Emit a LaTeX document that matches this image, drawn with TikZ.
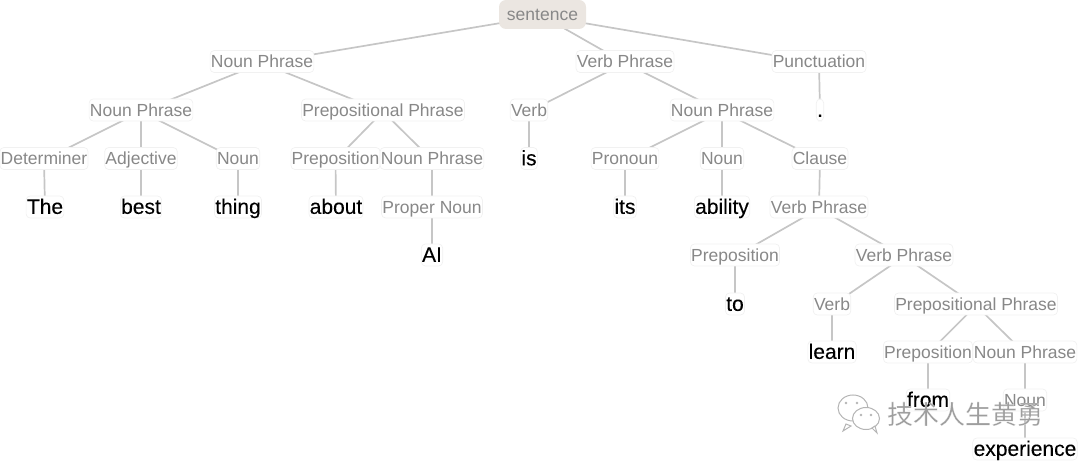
\documentclass[tikz,border=0pt]{standalone}
\usepackage{fontspec}
\setmainfont{Liberation Sans}
\newfontfamily\cjkmark[FakeBold=0.5]{Noto Sans CJK SC}
\newfontfamily\wordfont[FakeBold=0.12]{Liberation Sans}
\usetikzlibrary{backgrounds}
\definecolor{labelgrey}{HTML}{888888}
\definecolor{linkgrey}{HTML}{C6C6C6}
\definecolor{boxedge}{HTML}{F1F1F1}
\definecolor{rootfill}{HTML}{EBE6E1}
\definecolor{markgrey}{HTML}{B4B4B4}
\tikzset{
  treebox/.style={draw=boxedge,line width=0.7pt,fill=white,rounded corners=4pt,inner xsep=0.8pt,inner ysep=0pt,minimum height=22pt},
  phrase/.style={treebox,text=labelgrey,font=\fontsize{17.5}{20}\selectfont,text height=14.5pt,text depth=1.5pt},
  word/.style={treebox,text=black,font=\fontsize{21}{24}\wordfont,text height=16.6pt,text depth=2.9pt},
  rootnode/.style={phrase,draw=none,fill=rootfill,rounded corners=7pt,minimum width=87pt,minimum height=29pt},
  link/.style={draw=linkgrey,line width=1.7pt},
  bubble/.style={draw=markgrey,fill=white,line width=1pt},
  bubbledot/.style={fill=markgrey,draw=none}
}
\begin{document}
\begin{tikzpicture}[x=1pt,y=-1pt]
\useasboundingbox (0,0) rectangle (1080,462);

% Tree nodes, level by level
\node[rootnode] (s) at (542.5,14.5) {sentence};

\node[phrase] (np1) at (262,61.5) {Noun Phrase};
\node[phrase] (vp1) at (625,61.5) {Verb Phrase};
\node[phrase] (pu)  at (819,61.5) {Punctuation};

\node[phrase] (np2) at (141,110) {Noun Phrase};
\node[phrase] (pp1) at (383,110) {Prepositional Phrase};
\node[phrase] (v1)  at (529,110) {Verb};
\node[phrase] (np3) at (722,110) {Noun Phrase};
\node[word]   (dot) at (820,110) {.};

\node[phrase] (det) at (44,158.5) {Determiner};
\node[phrase] (adj) at (141,158.5) {Adjective};
\node[phrase] (n1)  at (238,158.5) {Noun};
\node[phrase] (pr1) at (335.5,158.5) {Preposition};
\node[phrase] (np4) at (432,158.5) {Noun Phrase};
\node[word]   (is)  at (529,158.5) {is};
\node[phrase] (pn)  at (625,158.5) {Pronoun};
\node[phrase] (n2)  at (722,158.5) {Noun};
\node[phrase] (cl)  at (820,158.5) {Clause};

\node[word]   (the)   at (45,207) {The};
\node[word]   (best)  at (141,207) {best};
\node[word]   (thing) at (238,207) {thing};
\node[word]   (about) at (336,207) {about};
\node[phrase] (ppn)   at (432,207) {Proper Noun};
\node[word]   (its)   at (625,207) {its};
\node[word]   (abil)  at (722,207) {ability};
\node[phrase] (vp2)   at (819,207) {Verb Phrase};

\node[word]   (ai)  at (432,255) {AI};
\node[phrase] (pr2) at (735,255) {Preposition};
\node[phrase] (vp3) at (904,255) {Verb Phrase};

\node[word]   (to)  at (735,304) {to};
\node[phrase] (v2)  at (832,304) {Verb};
\node[phrase] (pp2) at (976,304) {Prepositional Phrase};

\node[word]   (learn) at (832,352) {learn};
\node[phrase] (pr3)   at (928,352) {Preposition};
\node[phrase] (np5)   at (1025,352) {Noun Phrase};

\node[word]   (from) at (928,400) {from};
\node[phrase] (n3)   at (1025,400) {Noun};

\node[word]   (exp) at (1025,449) {experience};

% Connectors sit behind the boxes
\begin{scope}[on background layer]
  \foreach \parent/\child in {
    s/np1,s/vp1,s/pu,
    np1/np2,np1/pp1,vp1/v1,vp1/np3,pu/dot,
    np2/det,np2/adj,np2/n1,pp1/pr1,pp1/np4,v1/is,np3/pn,np3/n2,np3/cl,
    det/the,adj/best,n1/thing,pr1/about,np4/ppn,pn/its,n2/abil,cl/vp2,
    ppn/ai,vp2/pr2,vp2/vp3,
    pr2/to,vp3/v2,vp3/pp2,
    v2/learn,pp2/pr3,pp2/np5,
    pr3/from,np5/n3,n3/exp}
    \draw[link] ([yshift=-1.5pt]\parent.center) -- ([yshift=-1.5pt]\child.center);
\end{scope}

% Chat-bubble badge and caption laid over the lower right corner
\fill[bubble] (846,424) -- (843,431) -- (851,426) -- cycle;
\draw[bubble] (853,408) ellipse [x radius=15,y radius=13];
\draw[bubble] (866,418.5) ellipse [x radius=13.5,y radius=11];
\fill[bubble] (872,428) -- (877,433) -- (875,426) -- cycle;
\fill[bubbledot] (846,403) circle (1.4);
\fill[bubbledot] (857,403) circle (1.4);
\fill[bubbledot] (861,415) circle (1.4);
\fill[bubbledot] (871,415) circle (1.4);
\node[anchor=center,inner sep=0pt,font=\fontsize{26}{30}\selectfont] (mark) at (965,414)
  {\special{pdf:bcolor [0.62] [1]}\cjkmark 技术人生黄勇\special{pdf:ecolor}};
\end{tikzpicture}
\end{document}
